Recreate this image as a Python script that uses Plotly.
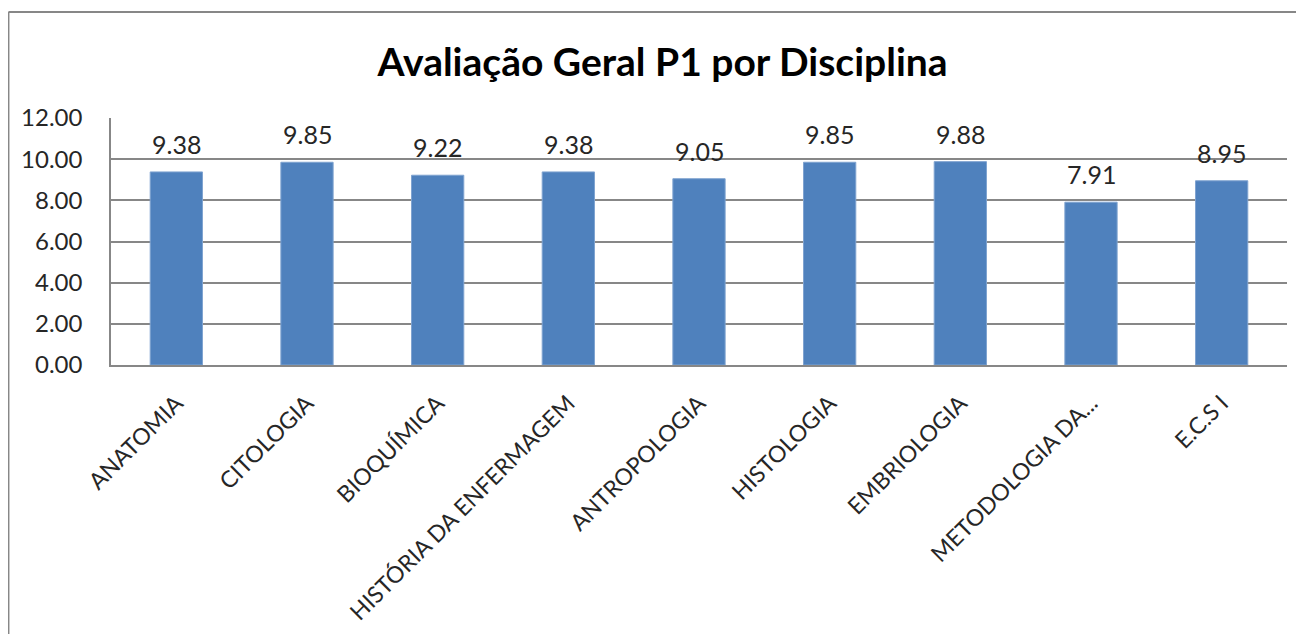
import plotly.graph_objects as go

disciplinas = [
    "ANATOMIA",
    "CITOLOGIA",
    "BIOQUÍMICA",
    "HISTÓRIA DA ENFERMAGEM",
    "ANTROPOLOGIA",
    "HISTOLOGIA",
    "EMBRIOLOGIA",
    "METODOLOGIA DA...",
    "E.C.S I",
]
notas = [9.38, 9.85, 9.22, 9.38, 9.05, 9.85, 9.88, 7.91, 8.95]

FONT = "Lato, Carlito, Calibri, sans-serif"
GRID = "#878787"
BAR = "#4F81BD"

fig = go.Figure(
    go.Bar(
        x=disciplinas,
        y=notas,
        marker={"color": BAR, "line": {"color": "#7FA3D0", "width": 1}},
        hoverinfo="skip",
    )
)

# value labels above the bars
for d, v in zip(disciplinas, notas):
    fig.add_annotation(
        x=d, y=v, text=f"{v:.2f}", showarrow=False,
        yanchor="bottom", yshift=11,
        font={"family": FONT, "size": 25, "color": "#262626"},
    )

# chart area border (only left and top edges are in the crop)
fig.add_shape(type="line", xref="paper", yref="paper",
              x0=-0.0872, x1=-0.0872, y0=-1.2, y1=1.429,
              line={"color": GRID, "width": 2})
fig.add_shape(type="line", xref="paper", yref="paper",
              x0=-0.0872, x1=1.05, y0=1.429, y1=1.429,
              line={"color": GRID, "width": 2})

fig.update_layout(
    width=1304,
    height=634,
    margin={"l": 103, "r": 25, "t": 110, "b": 277},
    paper_bgcolor="white",
    plot_bgcolor="white",
    bargap=0.6,
    showlegend=False,
    font={"family": FONT, "color": "#262626"},
    title={
        "text": "<b>Avaliação Geral P1 por Disciplina</b>",
        "x": 0.502, "xanchor": "center",
        "y": 1 - 54 / 634, "yanchor": "middle",
        "font": {"family": FONT, "size": 39, "color": "#000000"},
    },
    xaxis={
        "tickangle": -45,
        "tickfont": {"size": 23},
        "showline": True,
        "linecolor": GRID,
        "linewidth": 1.5,
        "showgrid": False,
        "ticklabelstandoff": 14,
    },
    yaxis={
        "range": [0, 12],
        "dtick": 2,
        "tickformat": ".2f",
        "tickfont": {"size": 24},
        "showline": True,
        "linecolor": GRID,
        "linewidth": 1.5,
        "gridcolor": GRID,
        "gridwidth": 1.5,
        "zeroline": False,
        "ticklabelstandoff": 22,
    },
)

fig.write_html("out.html")
